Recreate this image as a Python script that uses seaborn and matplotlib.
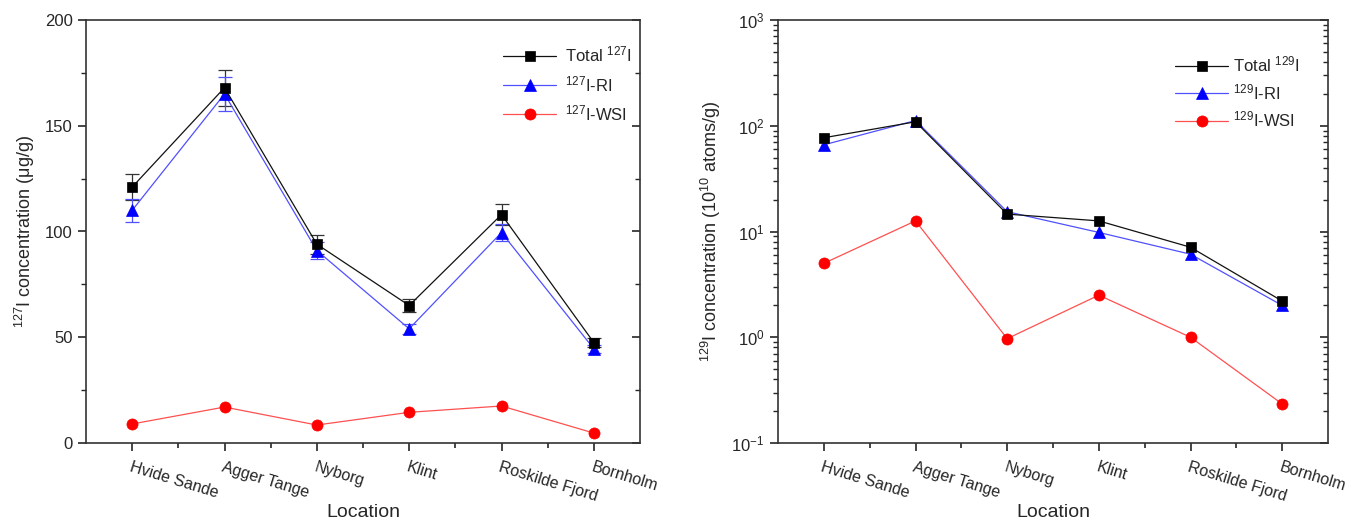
import numpy as np
import pandas as pd
import matplotlib
matplotlib.use("Agg")
import matplotlib.pyplot as plt
import seaborn as sns
from matplotlib.ticker import MultipleLocator, FixedLocator, LogLocator, NullFormatter

locations = ["Hvide Sande", "Agger Tange", "Nyborg", "Klint", "Roskilde Fjord", "Bornholm"]

# 127I concentration (ug/g)
i127_total = [121, 168, 94, 65, 108, 47.5]
i127_total_err = [6, 8.5, 4.5, 3, 5, 2]
i127_ri = [110, 165, 91, 54, 99.5, 44.5]
i127_ri_err = [5.5, 8, 4, 2.5, 4, 2]
i127_wsi = [9, 17, 8.5, 14.5, 17.5, 4.7]

# 129I concentration (10^10 atoms/g)
i129_total = [77, 109, 14.6, 12.6, 7.1, 2.2]
i129_ri = [66, 112, 15.4, 9.8, 6.1, 2.0]
i129_ri_err = [4, 5, 1.0, 0.8, 0.6, 0.2]
i129_wsi = [5.0, 12.6, 0.97, 2.5, 1.0, 0.234]

sns.set_style("ticks")
plt.rcParams["font.family"] = ["Liberation Sans", "DejaVu Sans"]
plt.rcParams["mathtext.fontset"] = "custom"
plt.rcParams["mathtext.rm"] = "Liberation Sans"
plt.rcParams["mathtext.it"] = "Liberation Sans:italic"

fig = plt.figure(figsize=(13.5, 5.24), dpi=100)
axL = fig.add_axes([86/1350, 81/524, 554/1350, 423/524])
axR = fig.add_axes([778/1350, 81/524, 550/1350, 423/524])

pos = np.arange(len(locations))

def make_df(total, ri, wsi, names):
    rows = []
    for s, vals in zip(names, [total, ri, wsi]):
        for p, v in zip(pos, vals):
            rows.append({"pos": p, "value": v, "series": s})
    return pd.DataFrame(rows)

lc = ["#111111", "#5050ff", "#ff5050"]
mk_colors = ["#000000", "#0000ff", "#ff0000"]
markers = ["s", "^", "o"]
msizes = [7, 9, 8]

def draw(ax, total, ri, wsi, names, total_err=None, ri_err=None):
    df = make_df(total, ri, wsi, names)
    if total_err is not None:
        ax.errorbar(pos, total, yerr=total_err, fmt="none", ecolor="#333333",
                    elinewidth=0.9, capsize=5, capthick=0.9, zorder=2)
    if ri_err is not None:
        ax.errorbar(pos, ri, yerr=ri_err, fmt="none", ecolor="#5050ff",
                    elinewidth=0.9, capsize=5 if total_err is not None else 0,
                    capthick=0.9, zorder=2)
    for i, s in enumerate(names):
        sub = df[df["series"] == s]
        sns.lineplot(data=sub, x="pos", y="value", ax=ax, color=lc[i], lw=0.9,
                     marker=markers[i], markersize=msizes[i], markerfacecolor=mk_colors[i],
                     markeredgecolor=mk_colors[i], markeredgewidth=0.5, label=s,
                     sort=False, estimator=None, zorder=3 + (2 - i) * 0.1)
    ax.set_xlim(-0.5, len(locations) - 0.5)
    ax.xaxis.set_major_locator(FixedLocator(pos))
    ax.xaxis.set_minor_locator(FixedLocator(pos[:-1] + 0.5))
    ax.set_xticklabels(locations, rotation=-17, ha="left", va="top",
                       rotation_mode="anchor", fontsize=11.5)
    ax.set_xlabel("Location", fontsize=14, labelpad=0)
    for sp in ax.spines.values():
        sp.set_linewidth(1.2)
        sp.set_color("#333333")
    ax.tick_params(axis="x", which="major", direction="out", length=6, width=1.2, pad=6)
    ax.tick_params(axis="x", which="minor", direction="out", length=3.5, width=1.2)
    ax.tick_params(axis="y", which="major", direction="out", length=6, width=1.2,
                   labelsize=12, right=True)
    ax.tick_params(axis="y", which="minor", direction="out", length=3.5, width=1.0, right=True)

draw(axL, i127_total, i127_ri, i127_wsi,
     ["Total $^{127}$I", "$^{127}$I-RI", "$^{127}$I-WSI"],
     total_err=i127_total_err, ri_err=i127_ri_err)
axL.set_ylim(0, 200)
axL.yaxis.set_major_locator(MultipleLocator(50))
axL.yaxis.set_minor_locator(MultipleLocator(25))
axL.set_ylabel("$^{127}$I concentration (μg/g)", fontsize=13, labelpad=6)

draw(axR, i129_total, i129_ri, i129_wsi,
     ["Total $^{129}$I", "$^{129}$I-RI", "$^{129}$I-WSI"],
     ri_err=i129_ri_err)
axR.set_yscale("log")
axR.set_ylim(0.1, 1000)
axR.yaxis.set_major_locator(LogLocator(base=10, numticks=10))
axR.yaxis.set_minor_locator(LogLocator(base=10, subs=np.arange(2, 10), numticks=20))
axR.yaxis.set_minor_formatter(NullFormatter())
axR.set_ylabel("$^{129}$I concentration (10$^{10}$ atoms/g)", fontsize=13, labelpad=6)

for ax in (axL, axR):
    ax.tick_params(axis="y", which="both", labelright=False)
    for t in ax.yaxis.get_major_ticks() + ax.yaxis.get_minor_ticks():
        t.tick2line.set_marker(matplotlib.lines.TICKLEFT)

axL.legend(loc="upper left", bbox_to_anchor=(488/1350, 1 - 30/524),
           bbox_transform=fig.transFigure, frameon=False, fontsize=12,
           handlelength=3.2, labelspacing=0.55, handletextpad=0.5)
axR.legend(loc="upper left", bbox_to_anchor=(1160/1350, 1 - 40/524),
           bbox_transform=fig.transFigure, frameon=False, fontsize=12,
           handlelength=3.2, labelspacing=0.45, handletextpad=0.3)

fig.savefig("out.png", dpi=100)
